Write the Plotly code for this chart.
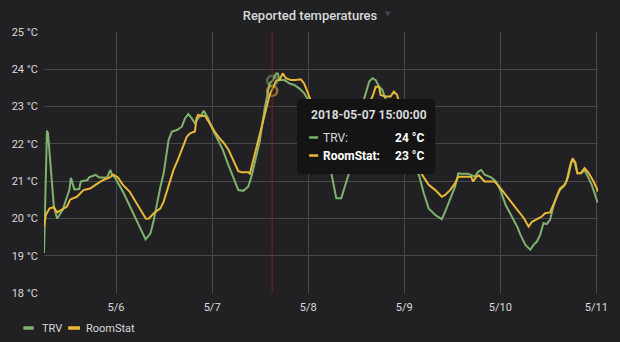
import pandas as pd
import plotly.graph_objects as go

# ---- data: hours since 2018-05-05 00:00 and temperature in °C ----
START = pd.Timestamp("2018-05-05 00:00")

trv_hours = [6.0, 6.74, 6.99, 7.8, 8.46, 9.28, 10.26, 10.68, 11.5, 12.33, 12.73, 13.57, 14.8, 15.19,
             16.84, 17.26, 18.89, 19.73, 21.77, 22.58, 23.0, 23.82, 25.89, 27.51, 29.34, 31.38,
             32.61, 33.43, 35.08, 35.89, 37.12, 37.96, 39.19, 40.43, 41.24, 42.05, 42.89, 43.7,
             44.52, 45.35, 45.92, 46.98, 48.21, 49.45, 50.68, 52.08, 53.31, 54.55, 55.78, 57.01,
             57.82, 58.66, 59.89, 61.13, 62.36, 63.17, 63.98, 64.4, 64.82, 66.06, 67.29, 68.52,
             69.75, 70.98, 71.8, 73.77, 75.74, 77.78, 78.62, 79.02, 80.25, 81.09, 82.07, 83.87,
             86.01, 87.25, 88.06, 88.87, 89.71, 90.52, 91.26, 94.7, 97.2, 99.64, 100.87, 102.1,
             103.76, 105.38, 106.22, 107.45, 108.69, 109.5, 110.31, 111.96, 113.61, 114.43,
             115.24, 116.08, 117.71, 118.94, 120.17, 121.33, 122.98, 124.21, 125.03, 126.26,
             127.49, 128.3, 129.14, 129.95, 130.77, 131.6, 132.42, 133.23, 134.07, 134.88,
             135.7, 136.53, 137.35, 137.91, 138.58, 139.24, 140.23, 141.04, 141.86, 142.84,
             143.68, 144.32]
trv_temp = [19.07, 22.35, 22.30, 21.12, 20.32, 20.0, 20.15, 20.23, 20.5, 20.76, 21.09, 20.78, 20.79, 20.99,
            21.03, 21.1, 21.17, 21.1, 21.1, 21.3, 21.17, 21.08, 20.68, 20.32, 19.87, 19.44,
            19.6, 19.96, 20.85, 21.21, 22.1, 22.33, 22.37, 22.46, 22.69, 22.8, 22.69, 22.55,
            22.69, 22.78, 22.89, 22.69, 22.37, 22.1, 21.84, 21.43, 21.08, 20.76, 20.74, 20.85,
            21.12, 21.52, 22.06, 22.95, 23.62, 23.71, 23.89, 23.89, 23.71, 23.71, 23.62, 23.58,
            23.49, 23.36, 23.22, 22.6, 21.8, 21.21, 20.81, 20.54, 20.54, 20.81, 21.17, 22.2,
            23.22, 23.67, 23.76, 23.71, 23.53, 23.45, 23.22, 22.5, 21.8, 21.17, 20.68, 20.27,
            20.09, 19.98, 20.18, 20.5, 20.85, 21.21, 21.2, 21.2, 21.12, 21.25,
            21.3, 21.17, 21.1, 20.99, 20.72, 20.36, 20.05, 19.78, 19.56, 19.29,
            19.16, 19.29, 19.38, 19.56, 19.87, 19.85, 19.96, 20.32, 20.58, 20.76,
            20.85, 20.99, 21.39, 21.57, 21.5, 21.21, 21.21, 21.3, 21.12, 20.9,
            20.63, 20.42]

room_hours = [6.0, 6.49, 7.4, 8.46, 9.28, 10.51, 11.74, 12.58, 14.21, 15.86, 17.51, 19.13, 20.79,
              22.44, 23.25, 24.48, 25.71, 27.37, 28.99, 30.64, 31.46, 32.2, 33.43, 35.08, 35.89,
              37.12, 38.36, 39.59, 40.82, 41.66, 42.47, 43.7, 44.12, 44.52, 45.35, 46.17, 47.4,
              48.63, 49.86, 51.1, 52.08, 53.31, 54.55, 55.36, 57.01, 57.43, 58.66, 59.89, 61.13,
              62.36, 63.17, 63.98, 64.82, 65.63, 66.45, 67.68, 68.91, 70.15, 70.98, 71.8, 74.51,
              77.46, 79.93, 82.39, 85.35, 88.06, 88.87, 89.71, 90.1, 91.34, 92.57, 93.4, 94.22,
              94.71, 97.18, 100.46, 102.1, 103.76, 105.38, 106.22, 107.45, 108.69, 109.5,
              110.98, 112.7, 113.2, 114.01, 114.67, 116.08, 118.54, 119.36, 121.0, 122.63,
              124.28, 125.93, 127.06, 127.9, 129.14, 130.37, 131.18, 132.42, 133.23, 134.07,
              134.88, 136.11, 136.93, 137.77, 138.16, 138.75, 139.24, 140.06, 141.04, 141.86,
              142.84, 143.93, 144.35]
room_temp = [19.78, 20.1, 20.27, 20.3, 20.16, 20.23, 20.32, 20.51, 20.58, 20.76, 20.8, 20.92, 21.03,
             21.1, 21.18, 21.1, 20.9, 20.72, 20.45, 20.14, 19.99, 20.0, 20.14, 20.27, 20.45,
             20.85, 21.3, 21.61, 21.93, 22.19, 22.28, 22.33, 22.69, 22.78, 22.74, 22.76, 22.55,
             22.33, 22.15, 22.0, 21.84, 21.57, 21.27, 21.24, 21.24, 21.2, 21.7, 22.24, 22.78,
             23.31, 23.49, 23.69, 23.71, 23.89, 23.76, 23.71, 23.71, 23.73, 23.62, 23.4, 22.6,
             21.7, 21.35, 21.6, 22.7, 23.27, 23.53, 23.53, 23.31, 23.27, 23.27, 23.4, 23.31,
             23.1, 22.1, 21.17, 20.9, 20.76, 20.58, 20.63, 20.76, 20.94, 21.12,
             21.12, 21.12, 20.99, 21.12, 21.15, 20.99, 20.99, 20.9, 20.68, 20.45,
             20.23, 20.0, 19.78, 19.91, 19.98, 20.05, 20.14, 20.16, 20.36, 20.58,
             20.8, 20.9, 21.12, 21.52, 21.59, 21.5, 21.21, 21.21, 21.35, 21.25,
             21.08, 20.85, 20.72]

series_names = ["TRV", "RoomStat"]
series_colors = ["#7eb26d", "#eab839"]

tick_days = ["2018-05-06", "2018-05-07", "2018-05-08", "2018-05-09", "2018-05-10", "2018-05-11"]
tick_labels = ["5/6", "5/7", "5/8", "5/9", "5/10", "5/11"]
y_ticks = [18, 19, 20, 21, 22, 23, 24, 25]

hover_time = pd.Timestamp("2018-05-07 15:00:00")
hover_values = [23.69, 23.42]

# ---- styling ----
BG = "#212124"
GRID = "#47474a"
TEXT = "#d8d9da"
FONT = "Roboto"

W, H = 620, 342
M_L, M_R, M_T, M_B = 40, 18, 32, 49
PLOT_H = H - M_T - M_B


def py(pixel_y):
    """Paper y for a pixel row measured from the top of the figure."""
    return (H - M_B - pixel_y) / PLOT_H


def px(pixel_x):
    """Paper x for a pixel column measured from the left of the figure."""
    return (pixel_x - M_L) / (W - M_L - M_R)


def to_time(hours):
    return START + pd.to_timedelta(hours, unit="h")


fig = go.Figure()
for name, color, hrs, vals in [
    (series_names[0], series_colors[0], trv_hours, trv_temp),
    (series_names[1], series_colors[1], room_hours, room_temp),
]:
    fig.add_trace(go.Scatter(x=to_time(hrs), y=vals, mode="lines", name=name,
                             line=dict(color=color, width=2), hoverinfo="skip"))

# hover rings where the crosshair meets each series
fig.add_trace(go.Scatter(
    x=[hover_time] * len(hover_values), y=hover_values, mode="markers", showlegend=False,
    hoverinfo="skip",
    marker=dict(symbol="circle-open", size=10,
                color=["rgba(126,178,109,0.55)", "rgba(234,184,57,0.55)"],
                line=dict(width=2.5)),
))

x_start = to_time(6.0)
x_end = to_time(144.4)

fig.update_layout(
    width=W, height=H,
    margin=dict(l=M_L, r=M_R, t=M_T, b=M_B),
    paper_bgcolor=BG, plot_bgcolor=BG,
    showlegend=False, hovermode=False,
    font=dict(family=FONT, size=11, color=TEXT),
    title=dict(text="Reported temperatures", x=0.5, xref="container", xanchor="center",
               y=1 - 15 / H, yref="container", yanchor="middle",
               font=dict(family=FONT, size=13, weight=500, color=TEXT)),
    xaxis=dict(type="date", range=[x_start, x_end], tickvals=pd.to_datetime(tick_days),
               ticktext=tick_labels, showgrid=True, gridcolor=GRID, gridwidth=1,
               zeroline=False, showline=False, ticks="", ticklabelstandoff=6,
               tickfont=dict(size=11, color=TEXT)),
    yaxis=dict(range=[18, 25], tickvals=y_ticks, ticktext=[f"{v} °C" for v in y_ticks],
               showgrid=True, gridcolor=GRID, gridwidth=1, zeroline=False, showline=False,
               ticks="", ticklabelstandoff=5, tickfont=dict(size=11, color=TEXT)),
)

shapes = []
annotations = []

# crosshair
shapes.append(dict(type="line", xref="x", yref="paper", x0=hover_time, x1=hover_time,
                   y0=0, y1=1, line=dict(color="rgba(150,30,30,0.75)", width=1), layer="above"))

# tooltip box (x in pixels relative to the crosshair, y in paper units)
bx0, bx1 = 25, 163
by0, by1 = py(174), py(99)
r = 4
ry = r / PLOT_H
path = (f"M {bx0 + r},{by1} L {bx1 - r},{by1} Q {bx1},{by1} {bx1},{by1 - ry} "
        f"L {bx1},{by0 + ry} Q {bx1},{by0} {bx1 - r},{by0} "
        f"L {bx0 + r},{by0} Q {bx0},{by0} {bx0},{by0 + ry} "
        f"L {bx0},{by1 - ry} Q {bx0},{by1} {bx0 + r},{by1} Z")
shapes.append(dict(type="path", xref="x", yref="paper", xsizemode="pixel",
                   xanchor=hover_time, path=path, fillcolor="#141414",
                   line=dict(width=0), layer="above"))

annotations.append(dict(xref="x", yref="paper", x=hover_time, xshift=37, xanchor="left",
                        y=py(115), yanchor="middle", showarrow=False,
                        text=f"<b>{hover_time.strftime('%Y-%m-%d %H:%M:%S')}</b>",
                        font=dict(family=FONT, size=12, color=TEXT)))

row_y = [py(137.5), py(155.5)]
for i, (name, color, val) in enumerate(zip(series_names, series_colors, hover_values)):
    shapes.append(dict(type="line", xref="x", yref="paper", xsizemode="pixel",
                       xanchor=hover_time, x0=37, x1=46, y0=row_y[i], y1=row_y[i],
                       line=dict(color=color, width=2.5), layer="above"))
    label = f"{name}:" if i == 0 else f"<b>{name}:</b>"
    lab_color = TEXT if i == 0 else "#ffffff"
    annotations.append(dict(xref="x", yref="paper", x=hover_time, xshift=49, xanchor="left",
                            y=row_y[i], yanchor="middle", showarrow=False, text=label,
                            font=dict(family=FONT, size=12, color=lab_color)))
    annotations.append(dict(xref="x", yref="paper", x=hover_time, xshift=154, xanchor="right",
                            y=row_y[i], yanchor="middle", showarrow=False,
                            text=f"<b>{val:.0f} °C</b>",
                            font=dict(family=FONT, size=12, color="#ffffff")))

# panel menu caret next to the title
annotations.append(dict(xref="paper", yref="paper", x=px(389), y=py(14), xanchor="center",
                        yanchor="middle", showarrow=False, text="▼",
                        font=dict(family="DejaVu Sans", size=7, color="#45454a")))

# legend
legend_y = py(328)
legend_items = [(19, 29.5, 35.5), (64.5, 76.5, 81)]
for (s0, s1, tx), name, color in zip(legend_items, series_names, series_colors):
    shapes.append(dict(type="line", xref="paper", yref="paper", x0=px(s0), x1=px(s1),
                       y0=legend_y, y1=legend_y, line=dict(color=color, width=3.5)))
    annotations.append(dict(xref="paper", yref="paper", x=px(tx), y=legend_y, xanchor="left",
                            yanchor="middle", showarrow=False, text=name,
                            font=dict(family=FONT, size=11, color=TEXT)))

fig.update_layout(shapes=shapes, annotations=annotations)
fig.write_html("out.html", config={"displayModeBar": False})
